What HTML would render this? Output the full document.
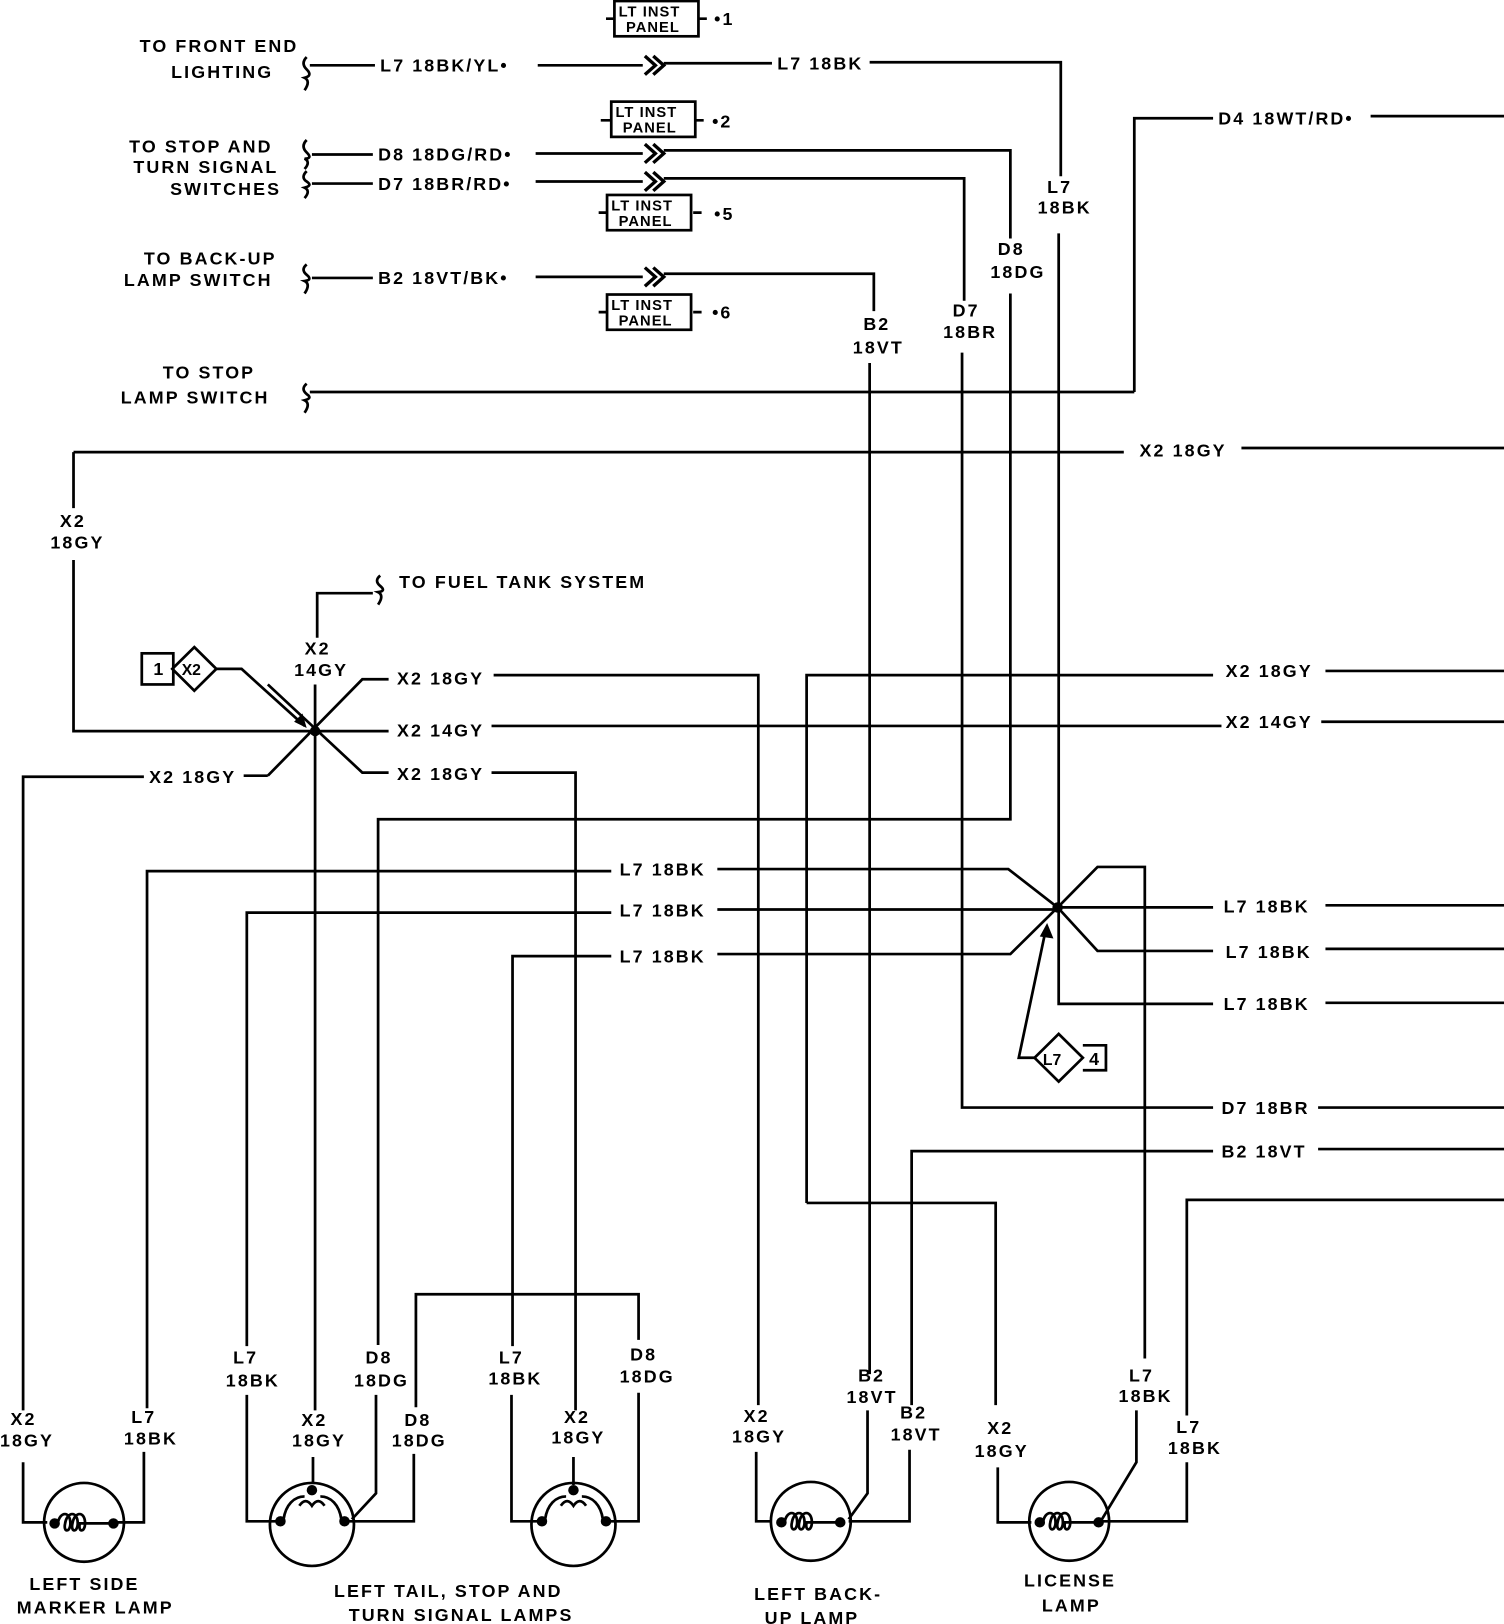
<!DOCTYPE html>
<html><head><meta charset="utf-8"><style>
html,body{margin:0;padding:0;background:#fff;}
svg{display:block;}
text{font-family:"Liberation Sans",sans-serif;font-size:17px;font-weight:bold;letter-spacing:2px;fill:#000;}
.w{fill:none;stroke:#000;stroke-width:2.6;}
</style></head><body>
<svg width="1504" height="1624" viewBox="0 0 1432 1566" preserveAspectRatio="none" xmlns="http://www.w3.org/2000/svg">
<defs>
<g id="chev"><path fill="none" stroke="#000" stroke-width="3.2" d="M0,-9 L10,0 L0,9 M8,-9 L18,0 L8,9"/></g>
<g id="ltp"><rect class="w" x="0" y="0" width="80" height="34"/><text x="4" y="15" style="font-size:14px;letter-spacing:1px">LT INST</text><text x="11" y="30" style="font-size:14px;letter-spacing:1px">PANEL</text></g>
</defs>
<g class="w">
<path d="M292,55 q-6,6 0,12 q6,6 -2,8 q6,3 0,12"/>
<path d="M292,135 q-6,6 0,12 q6,6 -2,6 q6,3 0,10"/>
<path d="M292,165 q-6,6 0,10 q6,4 -2,6 q6,3 0,10"/>
<path d="M292,255 q-6,5 0,10 q6,5 -2,6 q6,3 0,12"/>
<path d="M292,370 q-6,5 0,10 q6,4 -2,6 q6,3 0,12"/>
<path d="M362,555 q-6,5 0,10 q6,5 -2,6 q6,3 0,12"/>
<path d="M295,63 H357 M512,63 H612 M632,61 H735 M828,60 H1010 V170 M1008,225 V968 H1155 M1262,967 H1432"/>
<path d="M1080,378 V114 H1155 M1305,112 H1432"/>
<path d="M297,149 H355 M510,148 H612 M632,145 H962 V230 M962,283 V790 H360 V1297 M358,1345 V1440 L335,1465"/>
<path d="M297,177 H355 M510,175 H612 M632,172 H918 V290 M916,340 V1068 H1155 M1255,1068 H1432"/>
<path d="M297,268 H355 M510,267 H612 M632,264 H832 V300 M828,350 V1325 M826,1360 V1440 L808,1465"/>
<path d="M295,378 H1080"/>
<path d="M70,436 H1070 M1182,432 H1432 M70,436 V490 M70,540 V705 H300"/>
<path d="M302,615 V572 H355 M300,660 V1360 M298,1405 V1430"/>
<path d="M255,748 L345,655 H370 M470,651 H722 V1355 M720,1400 V1467 H735"/>
<path d="M300,705 H370 M468,700 H1163 M1258,696 H1432"/>
<path d="M255,660 L345,745 H370 M468,745 H548 V1360 M546,1405 V1432"/>
<path d="M255,748 H232 M137,749 H22 V1360 M22,1410 V1468 H45"/>
<path d="M768,1160 V651 H1155 M1262,647 H1432 M768,1160 H948 V1355 M950,1415 V1468 H982"/>
<path d="M140,1358 V840 H582 M683,838 H960 L1007,875"/>
<path d="M235,1298 V880 H582 M683,877 H1007"/>
<path d="M488,1298 V922 H582 M683,920 H962 L1007,875"/>
<path d="M1007,875 L1045,836 H1090 V1310 M1082,1360 V1410 L1048,1467"/>
<path d="M1007,875 H1155 M1262,873 H1432"/>
<path d="M1007,875 L1045,917 H1155 M1262,915 H1432"/>
<path d="M235,1345 V1467 H265 M487,1345 V1467 H515 M137,1400 V1468 H110"/>
<path d="M868,1355 V1110 H1155 M1255,1108 H1432 M866,1398 V1467 H808"/>
<path d="M1432,1157 H1130 V1365 M1130,1410 V1467 H1050"/>
<path d="M396,1357 V1248 H608 V1292 M608,1343 V1467 H580 M394,1402 V1467 H330"/>
<rect x="135" y="630" width="30" height="30"/>
<path d="M185,624 L206,645 L185,666 L164,645 Z"/>
<path d="M206,645 H230 L290,700"/>
<path d="M985,1020 L1008,997 L1031,1020 L1008,1043 Z"/>
<path d="M1031,1008 H1053 V1032 H1031"/>
<path d="M985,1020 H970 L996,895"/>
<path d="M577,18 H585 M665,18 H673 M572,116 H582 M662,116 H670 M570,205 H578 M660,205 H668 M570,301 H578 M660,301 H668"/>
<circle cx="80" cy="1468" r="38"/>
<circle cx="297" cy="1470" r="40"/>
<circle cx="546" cy="1470" r="40"/>
<circle cx="772" cy="1467" r="38"/>
<circle cx="1018" cy="1467" r="38"/>
<path d="M55,1469 c2,-12 12,-12 12,0 c0,9 -7,9 -5,0 c2,-12 12,-12 12,0 c0,9 -7,9 -5,0 c2,-12 12,-12 12,0 c0,9 -7,9 -5,0 H105"/>
<path d="M747,1468 c2,-12 12,-12 12,0 c0,9 -7,9 -5,0 c2,-12 12,-12 12,0 c0,9 -7,9 -5,0 c2,-12 12,-12 12,0 c0,9 -7,9 -5,0 H797"/>
<path d="M993,1468 c2,-12 12,-12 12,0 c0,9 -7,9 -5,0 c2,-12 12,-12 12,0 c0,9 -7,9 -5,0 c2,-12 12,-12 12,0 c0,9 -7,9 -5,0 H1043"/>
<path d="M270,1465 c2,-14 10,-22 20,-22 M305,1443 c10,0 18,8 20,22 M285,1452 c4,-6 8,-6 12,0 c4,-6 8,-6 12,0"/>
<path d="M519,1465 c2,-14 10,-22 20,-22 M554,1443 c10,0 18,8 20,22 M534,1452 c4,-6 8,-6 12,0 c4,-6 8,-6 12,0"/>
</g>
<g fill="#000">
<circle cx="300" cy="705" r="5"/><circle cx="1007" cy="875" r="5"/>
<path d="M292,702 L280,696 L288,688 Z"/>
<path d="M997,890 L1003,905 L990,903 Z"/>
<circle cx="52" cy="1469" r="5"/><circle cx="108" cy="1469" r="5"/>
<circle cx="744" cy="1468" r="5"/><circle cx="800" cy="1468" r="5"/>
<circle cx="990" cy="1468" r="5"/><circle cx="1046" cy="1468" r="5"/>
<circle cx="267" cy="1467" r="5"/><circle cx="297" cy="1437" r="5"/><circle cx="328" cy="1467" r="5"/>
<circle cx="516" cy="1467" r="5"/><circle cx="546" cy="1437" r="5"/><circle cx="577" cy="1467" r="5"/>
</g>
<use href="#chev" x="614" y="63"/><use href="#chev" x="614" y="148"/><use href="#chev" x="614" y="175"/><use href="#chev" x="614" y="267"/>
<use href="#ltp" x="585" y="1"/><use href="#ltp" x="582" y="98"/><use href="#ltp" x="578" y="188"/><use href="#ltp" x="578" y="284"/>
<text x="680" y="24">•1</text><text x="678" y="123">•2</text><text x="680" y="212">•5</text><text x="678" y="307">•6</text>
<text x="133" y="50">TO FRONT END</text><text x="163" y="75">LIGHTING</text>
<text x="362" y="69">L7 18BK/YL•</text><text x="740" y="67">L7 18BK</text>
<text x="997" y="186">L7</text><text x="988" y="206">18BK</text>
<text x="1160" y="120">D4 18WT/RD•</text>
<text x="123" y="147">TO STOP AND</text><text x="127" y="167">TURN SIGNAL</text><text x="162" y="188">SWITCHES</text>
<text x="360" y="155">D8 18DG/RD•</text><text x="360" y="183">D7 18BR/RD•</text>
<text x="950" y="246">D8</text><text x="943" y="268">18DG</text>
<text x="907" y="305">D7</text><text x="898" y="326">18BR</text>
<text x="137" y="255">TO BACK-UP</text><text x="118" y="276">LAMP SWITCH</text>
<text x="360" y="274">B2 18VT/BK•</text>
<text x="822" y="318">B2</text><text x="812" y="341">18VT</text>
<text x="155" y="365">TO STOP</text><text x="115" y="389">LAMP SWITCH</text>
<text x="1085" y="440">X2 18GY</text>
<text x="57" y="508">X2</text><text x="48" y="529">18GY</text>
<text x="380" y="567">TO FUEL TANK SYSTEM</text>
<text x="146" y="651">1</text><text x="173" y="651" style="font-size:15px;letter-spacing:0">X2</text>
<text x="290" y="631">X2</text><text x="280" y="652">14GY</text>
<text x="378" y="660">X2 18GY</text><text x="378" y="710">X2 14GY</text><text x="378" y="752">X2 18GY</text>
<text x="142" y="755">X2 18GY</text>
<text x="1167" y="653">X2 18GY</text><text x="1167" y="702">X2 14GY</text>
<text x="590" y="844">L7 18BK</text><text x="590" y="884">L7 18BK</text><text x="590" y="928">L7 18BK</text>
<text x="1165" y="880">L7 18BK</text><text x="1167" y="924">L7 18BK</text><text x="1165" y="974">L7 18BK</text>
<text x="993" y="1027" style="font-size:15px;letter-spacing:0">L7</text><text x="1037" y="1027">4</text>
<text x="1163" y="1074">D7 18BR</text><text x="1163" y="1116">B2 18VT</text>
<text x="222" y="1315">L7</text><text x="215" y="1337">18BK</text>
<text x="348" y="1315">D8</text><text x="337" y="1337">18DG</text>
<text x="475" y="1315">L7</text><text x="465" y="1335">18BK</text>
<text x="600" y="1312">D8</text><text x="590" y="1333">18DG</text>
<text x="10" y="1374">X2</text><text x="0" y="1395">18GY</text>
<text x="125" y="1372">L7</text><text x="118" y="1393">18BK</text>
<text x="287" y="1375">X2</text><text x="278" y="1395">18GY</text>
<text x="385" y="1375">D8</text><text x="373" y="1395">18DG</text>
<text x="537" y="1372">X2</text><text x="525" y="1392">18GY</text>
<text x="708" y="1371">X2</text><text x="697" y="1391">18GY</text>
<text x="817" y="1332">B2</text><text x="806" y="1353">18VT</text>
<text x="857" y="1368">B2</text><text x="848" y="1389">18VT</text>
<text x="940" y="1383">X2</text><text x="928" y="1405">18GY</text>
<text x="1075" y="1332">L7</text><text x="1065" y="1352">18BK</text>
<text x="1120" y="1382">L7</text><text x="1112" y="1402">18BK</text>
<text x="28" y="1533">LEFT SIDE</text><text x="16" y="1556">MARKER LAMP</text>
<text x="318" y="1540">LEFT TAIL, STOP AND</text><text x="332" y="1563">TURN SIGNAL LAMPS</text>
<text x="718" y="1543">LEFT BACK-</text><text x="728" y="1566">UP LAMP</text>
<text x="975" y="1530">LICENSE</text><text x="992" y="1554">LAMP</text>
</svg>
</body></html>
